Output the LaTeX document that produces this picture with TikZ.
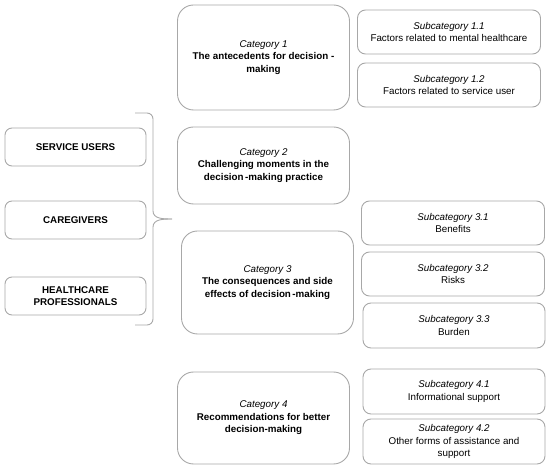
\documentclass[tikz,border=0pt]{standalone}
\usepackage{fontspec}
\setmainfont{Liberation Sans}
\definecolor{edge}{RGB}{168,168,168}
\begin{document}
\begin{tikzpicture}[x=1pt,y=-1pt,
  base/.style={draw=edge,line width=0.9pt,align=center,inner sep=2pt,font=\fontsize{9.8}{12.5}\selectfont},
  catbox/.style={base,rounded corners=16pt,minimum width=172pt},
  subbox/.style={base,rounded corners=8pt,minimum width=183pt,minimum height=44pt},
  grpbox/.style={base,rounded corners=7pt,minimum width=141pt,minimum height=38pt,font=\fontsize{9.8}{12.5}\selectfont\bfseries},
  bracel/.style={draw=edge,line width=0.9pt}]
\useasboundingbox (0,0) rectangle (550,470);
% left groups
\node[grpbox] (su) at (75.5,147) {SERVICE USERS};
\node[grpbox] (cg) at (75.5,220) {CAREGIVERS};
\node[grpbox] (hp) at (75.5,296) {HEALTHCARE\\PROFESSIONALS};
% brace
\coordinate (btop) at (135,113);
\coordinate (bbot) at (135,325);
\coordinate (tip) at (172,219);
\draw[bracel] (btop) -- (147,113) to[out=0,in=90] (153,119) -- (153,211) to[out=-90,in=180] (tip);
\draw[bracel] (bbot) -- (147,325) to[out=0,in=-90] (153,319) -- (153,227) to[out=90,in=180] (tip);
% categories
\node[catbox,minimum height=105pt] (c1) at (263.5,57.5) {\textit{Category 1}\\\textbf{The antecedents for decision -}\\\textbf{making}};
\node[catbox,minimum height=77pt] (c2) at (263.5,165.5) {\textit{Category 2}\\\textbf{Challenging moments in the}\\\textbf{decision\kern1.5pt-making practice}};
\node[catbox,minimum height=103pt] (c3) at (267.5,282.5) {\textit{Category 3}\\\textbf{The consequences and side}\\\textbf{effects of decision\kern1.5pt-making}};
\node[catbox,minimum height=92pt] (c4) at (263.5,418) {\textit{Category 4}\\\textbf{Recommendations for better}\\\textbf{decision-making}};
% subcategories
\node[subbox] (s11) at (449,32) {\textit{Subcategory 1.1}\\Factors related to mental healthcare};
\node[subbox] (s12) at (449,85) {\textit{Subcategory 1.2}\\Factors related to service user};
\node[subbox] (s31) at (453,223) {\textit{Subcategory 3.1}\\Benefits};
\node[subbox] (s32) at (453,274) {\textit{Subcategory 3.2}\\Risks};
\node[subbox,minimum width=182pt,minimum height=45pt] (s33) at (454,325.5) {\textit{Subcategory 3.3}\\Burden};
\node[subbox,minimum width=182pt,minimum height=45pt] (s41) at (454,391.5) {\textit{Subcategory 4.1}\\Informational support};
\node[subbox,minimum width=182pt,minimum height=45pt] (s42) at (454,441.5) {\textit{Subcategory 4.2}\\Other forms of assistance and\\support};
\end{tikzpicture}
\end{document}
